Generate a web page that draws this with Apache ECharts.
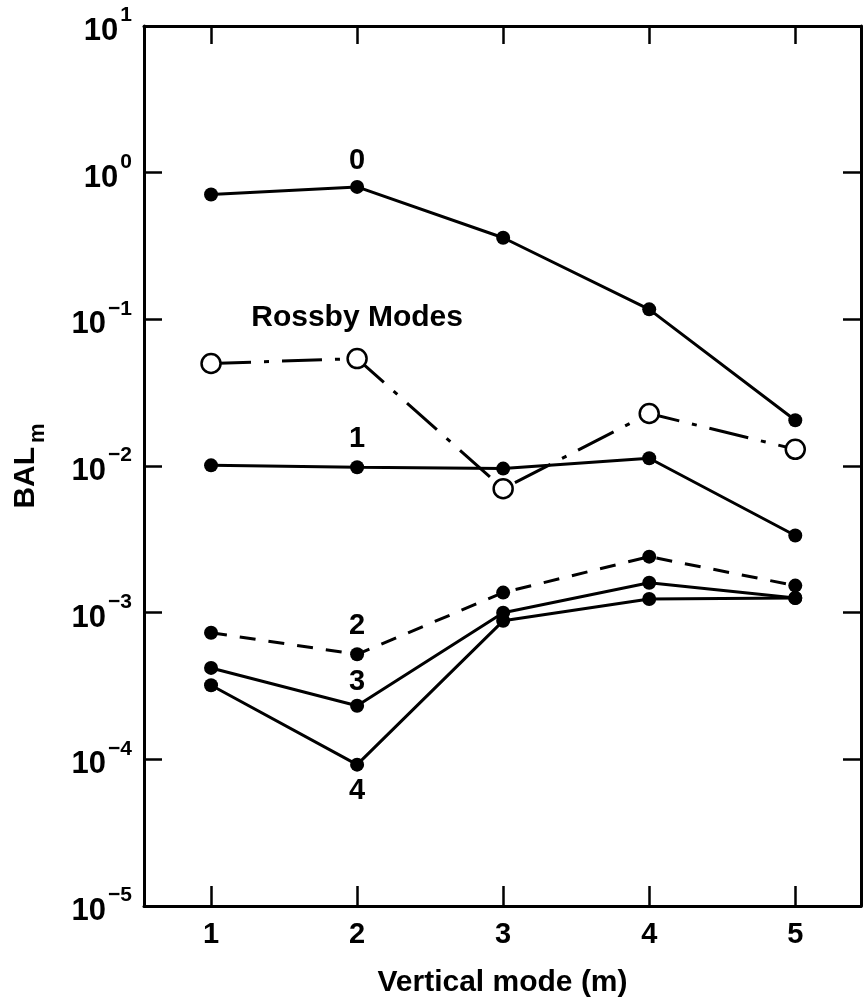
<!DOCTYPE html>
<html>
<head>
<meta charset="utf-8">
<script src="https://cdn.jsdelivr.net/npm/echarts@6/dist/echarts.min.js"></script>
<style>
html,body{margin:0;padding:0;background:#fff;}
#c{width:863px;height:1008px;}
</style>
</head>
<body>
<div id="c"></div>
<script>
// ---- data ----
const verticalModes = [1, 2, 3, 4, 5];
const mode0  = [0.71, 0.80, 0.36, 0.117, 0.0205];
const rossby = [0.050, 0.054, 0.0070, 0.0228, 0.0130];
const mode1  = [0.0101, 0.0098, 0.0096, 0.0113, 0.00336];
const mode2  = [7.3e-4, 5.2e-4, 1.37e-3, 2.41e-3, 1.53e-3];
const mode3  = [4.2e-4, 2.32e-4, 1.0e-3, 1.6e-3, 1.26e-3];
const mode4  = [3.2e-4, 9.2e-5, 8.8e-4, 1.24e-3, 1.26e-3];
const xTickLabels = ['1', '2', '3', '4', '5'];
const yExponents = ['\u22125', '\u22124', '\u22123', '\u22122', '\u22121', '0', '1'];
const curveLabels = { mode0: '0', rossby: 'Rossby Modes', mode1: '1', mode2: '2', mode3: '3', mode4: '4' };
const xTitle = 'Vertical mode (m)';
const yTitleMain = 'BAL';
const yTitleSub = 'm';

const FONT = '"Liberation Sans", Arial, sans-serif';
const chart = echarts.init(document.getElementById('c'), null, { renderer: 'canvas' });

function mkData(vals, labelIdx, labelText, pos, dist, size) {
  return vals.map((v, i) => {
    const d = { value: [verticalModes[i], v] };
    if (i === labelIdx) {
      d.label = { show: true, formatter: labelText, position: pos, distance: dist,
        fontFamily: FONT, fontWeight: 'bold', fontSize: size || 29, color: '#000' };
    }
    return d;
  });
}

const solidDot = (name, vals, lbl, pos, dist, dash) => ({
  name, type: 'line', data: mkData(vals, 1, lbl, pos, dist),
  symbol: 'circle', symbolSize: 14, showSymbol: true,
  lineStyle: { color: '#000', width: 3, type: dash || 'solid' },
  itemStyle: { color: '#000' }, z: 3
});

const option = {
  animation: false,
  backgroundColor: '#fff',
  grid: { left: 144, right: 2, top: 26, bottom: 102, containLabel: false },
  xAxis: [
    { type: 'value', min: 0.541, max: 5.45, position: 'bottom',
      axisLine: { show: true, onZero: false, lineStyle: { color: '#000', width: 3 } },
      axisTick: { show: true, inside: true, length: 20, lineStyle: { color: '#000', width: 2.5 },
        customValues: verticalModes },
      axisLabel: { show: true, customValues: verticalModes, margin: 14,
        formatter: (v) => xTickLabels[verticalModes.indexOf(Math.round(v))] || '',
        fontFamily: FONT, fontWeight: 'bold', fontSize: 29, color: '#000' },
      splitLine: { show: false },
      name: xTitle, nameLocation: 'middle', nameGap: 62,
      nameTextStyle: { fontFamily: FONT, fontWeight: 'bold', fontSize: 30, color: '#000' } },
    { type: 'value', min: 0.541, max: 5.45, position: 'top',
      axisLine: { show: true, onZero: false, lineStyle: { color: '#000', width: 3 } },
      axisTick: { show: true, inside: true, length: 18, lineStyle: { color: '#000', width: 2.5 },
        customValues: verticalModes },
      axisLabel: { show: false }, splitLine: { show: false } }
  ],
  yAxis: [
    { type: 'log', logBase: 10, min: 1e-5, max: 10, interval: 1, position: 'left',
      axisLine: { show: true, onZero: false, lineStyle: { color: '#000', width: 3 } },
      axisTick: { show: true, inside: true, length: 18, lineStyle: { color: '#000', width: 2.5 } },
      splitLine: { show: false },
      axisLabel: { show: true, margin: 12,
        formatter: (v) => {
          const e = Math.round(Math.log10(v));
          return '{b|10}{s|' + yExponents[e + 5] + '}';
        },
        rich: {
          b: { fontFamily: FONT, fontWeight: 'bold', fontSize: 31, color: '#000', verticalAlign: 'bottom', lineHeight: 42 },
          s: { fontFamily: FONT, fontWeight: 'bold', fontSize: 21, color: '#000', verticalAlign: 'top', padding: [0, 0, 0, 2] }
        } },
      name: '{a|' + yTitleMain + '}{m|' + yTitleSub + '}',
      nameLocation: 'middle', nameRotate: 90, nameGap: 95,
      nameTextStyle: {
        rich: {
          a: { fontFamily: FONT, fontWeight: 'bold', fontSize: 30, color: '#000', verticalAlign: 'top', lineHeight: 38 },
          m: { fontFamily: FONT, fontWeight: 'bold', fontSize: 22, color: '#000', verticalAlign: 'bottom', padding: [0, 0, 0, 4] }
        } } },
    { type: 'log', logBase: 10, min: 1e-5, max: 10, interval: 1, position: 'right',
      axisLine: { show: true, onZero: false, lineStyle: { color: '#000', width: 3 } },
      axisTick: { show: true, inside: true, length: 18, lineStyle: { color: '#000', width: 2.5 } },
      axisLabel: { show: false }, splitLine: { show: false } }
  ],
  series: [
    solidDot('Mode 0', mode0, curveLabels.mode0, 'top', 4),
    {
      name: 'Rossby Modes', type: 'line', data: mkData(rossby, 1, curveLabels.rossby, 'top', 15, 30),
      symbol: 'circle', symbolSize: 19, showSymbol: true,
      lineStyle: { color: '#000', width: 3, type: [40, 13, 5, 13] },
      itemStyle: { color: '#fff', borderColor: '#000', borderWidth: 2.5 }, z: 4
    },
    solidDot('Mode 1', mode1, curveLabels.mode1, 'top', 7),
    solidDot('Mode 2', mode2, curveLabels.mode2, 'top', 7, [16, 13]),
    solidDot('Mode 3', mode3, curveLabels.mode3, 'top', 2),
    solidDot('Mode 4', mode4, curveLabels.mode4, 'bottom', 5)
  ]
};
chart.setOption(option);
</script>
</body>
</html>
